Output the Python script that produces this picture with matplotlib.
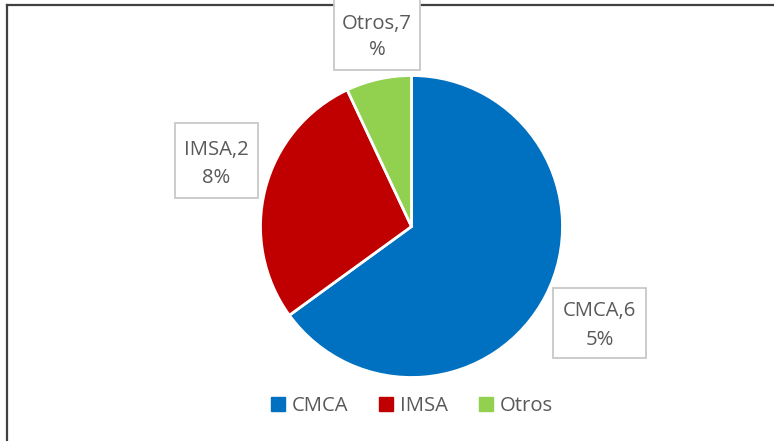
import matplotlib
matplotlib.use("Agg")
import matplotlib.pyplot as plt
from matplotlib.patches import Rectangle, Patch
from matplotlib.lines import Line2D

categories = ["CMCA", "IMSA", "Otros"]
values = [65, 28, 7]
label_texts = ["CMCA,6\n5%", "IMSA,2\n8%", "Otros,7\n%"]
colors = ["#0070C0", "#C00000", "#92D050"]

W, H = 774, 441
fig = plt.figure(figsize=(W / 100, H / 100), dpi=100)
plt.rcParams['font.family'] = ['Open Sans', 'DejaVu Sans']
text_color = "#595959"

def fx(x):
    return x / W

def fy(y):
    return 1 - y / H

# outer border (top and left visible)
fig.add_artist(Line2D([fx(6.5), fx(774)], [fy(5), fy(5)], color="#404040", lw=1.6,
                      transform=fig.transFigure))
fig.add_artist(Line2D([fx(6.5), fx(6.5)], [fy(5), fy(441)], color="#404040", lw=1.6,
                      transform=fig.transFigure))

# pie
cx, cy, r = 411.5, 226.5, 151
ax = fig.add_axes([fx(cx - r), fy(cy + r), 2 * r / W, 2 * r / H])
ax.pie(values, colors=colors, startangle=90, counterclock=False,
       wedgeprops=dict(edgecolor="white", linewidth=2))
ax.set_xlim(-1, 1)
ax.set_ylim(-1, 1)
ax.set_aspect("auto")
ax.axis("off")

# data label boxes (pixel layout)
boxes = {
    "CMCA": (553, 288, 646, 358, 599.5, 311, 340),
    "IMSA": (175, 123, 258, 198, 216.5, 150, 178),
    "Otros": (334, -5, 420, 70, 377, 24, 50),
}
for cat, txt in zip(categories, label_texts):
    x0, y0, x1, y1, tx, ty1, ty2 = boxes[cat]
    rect = Rectangle((fx(x0), fy(y1)), (x1 - x0) / W, (y1 - y0) / H,
                     transform=fig.transFigure, facecolor="white",
                     edgecolor="#C8C8C8", linewidth=1.3, zorder=5)
    fig.add_artist(rect)
    l1, l2 = txt.split("\n")
    fig.text(fx(tx), fy(ty1), l1, ha="center", va="center", fontsize=14.6,
             color=text_color, zorder=6)
    fig.text(fx(tx), fy(ty2), l2, ha="center", va="center", fontsize=14.6,
             color=text_color, zorder=6)

# legend
handles = [Patch(facecolor=c, edgecolor=c) for c in colors]
leg = fig.legend(handles, categories, loc="center", bbox_to_anchor=(fx(412), fy(406)),
                 ncol=3, frameon=False, fontsize=14.6, handlelength=0.7, handleheight=0.7,
                 handletextpad=0.35, columnspacing=1.5)
for t in leg.get_texts():
    t.set_color(text_color)

fig.savefig("out.png", dpi=100)
